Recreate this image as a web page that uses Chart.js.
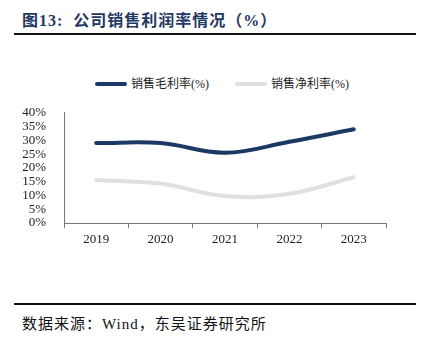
<!DOCTYPE html>
<html>
<head>
<meta charset="utf-8">
<script src="https://cdn.jsdelivr.net/npm/chart.js@4/dist/chart.umd.min.js"></script>
<style>
  html, body { margin: 0; padding: 0; background: #fff; }
  #wrap { position: relative; width: 428px; height: 338px; overflow: hidden; }
  #title { position: absolute; left: 22px; top: 7px; font: bold 16px "Liberation Serif", "Noto Sans CJK SC", serif; letter-spacing: 1px; color: #1f3864; white-space: nowrap; }
  .rule { position: absolute; left: 14px; width: 402px; height: 2px; background: #111; }
  #legend { position: absolute; top: 74px; left: 0; width: 428px; height: 16px; font: 12px "Liberation Serif", "Noto Sans CJK SC", serif; color: #222; }
  .item { position: absolute; top: 0; white-space: nowrap; }
  .swatch { display: inline-block; width: 32px; height: 4px; border-radius: 2px; vertical-align: middle; margin-right: 4px; position: relative; top: -1px; }
  #source { position: absolute; left: 22px; top: 312px; font: 15px "Liberation Serif", "Noto Sans CJK SC", serif; letter-spacing: 1px; color: #111; white-space: nowrap; }
  #chartBox { position: absolute; left: 0; top: 95px; width: 428px; height: 160px; }
</style>
</head>
<body>
<div id="wrap">
  <div id="title">图13:&nbsp; 公司销售利润率情况（%）</div>
  <div class="rule" style="top:33px"></div>
  <div id="legend"></div>
  <div id="chartBox"><canvas id="c" width="428" height="160"></canvas></div>
  <div class="rule" style="top:303px"></div>
  <div id="source">数据来源：Wind，东吴证券研究所</div>
</div>
<script>
const years = ['2019', '2020', '2021', '2022', '2023'];
const grossMargin = [29.0, 29.0, 25.5, 29.5, 34.0];   // 销售毛利率(%)
const netMargin = [15.6, 14.3, 9.8, 10.6, 16.6];      // 销售净利率(%)
const seriesNames = ['销售毛利率(%)', '销售净利率(%)'];
const seriesColors = ['#1b3a63', '#e0e0e0'];

// legend drawn as html so it sits where the report puts it
const legendLeft = [95, 235];
const legend = document.getElementById('legend');
seriesNames.forEach((name, i) => {
  const el = document.createElement('div');
  el.className = 'item';
  el.style.left = legendLeft[i] + 'px';
  el.innerHTML = '<span class="swatch" style="background:' + seriesColors[i] + '"></span>' + name;
  legend.appendChild(el);
});

const tickFont = { family: '"Liberation Serif", serif', size: 13 };

new Chart(document.getElementById('c'), {
  type: 'line',
  data: {
    labels: years,
    datasets: [
      { label: seriesNames[0], data: grossMargin, borderColor: seriesColors[0], borderWidth: 4, tension: 0.4, pointRadius: 0, borderCapStyle: 'round', fill: false },
      { label: seriesNames[1], data: netMargin, borderColor: seriesColors[1], borderWidth: 4, tension: 0.4, pointRadius: 0, borderCapStyle: 'round', fill: false }
    ]
  },
  options: {
    responsive: false,
    animation: false,
    layout: { padding: { top: 17, bottom: 2, left: 0, right: 42 } },
    plugins: { legend: { display: false }, tooltip: { enabled: false } },
    scales: {
      x: {
        offset: true,
        grid: { display: true, drawOnChartArea: false, tickLength: 5, color: '#777', offset: true },
        border: { color: '#777' },
        ticks: { color: '#222', font: tickFont, padding: 4, maxRotation: 0 },
        afterFit: s => { s.height = 30; }
      },
      y: {
        min: 0,
        max: 40,
        grid: { display: false },
        border: { color: '#777' },
        ticks: { stepSize: 5, autoSkip: false, color: '#222', font: tickFont, padding: 10, callback: v => v + '%' },
        afterFit: s => { s.width = 64; }
      }
    }
  }
});
</script>
</body>
</html>
